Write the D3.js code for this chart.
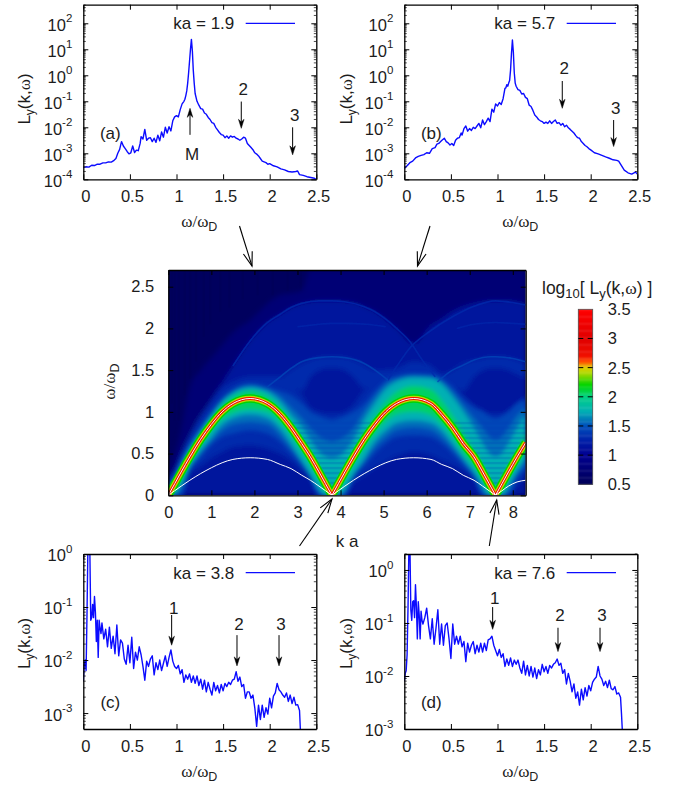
<!DOCTYPE html>
<html>
<head>
<meta charset="utf-8">
<script src="https://d3js.org/d3.v7.min.js"></script>
<style>
body { margin: 0; background: #fff; }
text { font-family: "Liberation Sans", Arial, sans-serif; fill: #1c1c1c; }
.axis path { stroke: #000; stroke-width: 1.3; fill: none; }
.axis line { stroke: #000; stroke-width: 1; }
</style>
</head>
<body>
<script>
//spectra: omega/omega_D and log10 of Ly
var omegaTop = [0,.03,.06,.09,.12,.15,.18,.21,.24,.27,.3,.33,.35,.37,.39,.41,.43,.45,.47,.49,
    .51,.53,.55,.57,.59,.61,.62,.64,.66,.68,.7,.72,.74,.76,.78,.8,.82,.84,.86,.88,
    .9,.92,.94,.96,.98,1,1.02,1.04,1.06,1.08,1.09,1.1,1.11,1.12,1.13,1.14,1.15,1.16,1.17,1.18,
    1.19,1.2,1.22,1.24,1.26,1.28,1.3,1.32,1.34,1.36,1.38,1.4,1.42,1.44,1.46,1.48,1.5,1.52,1.54,1.56,
    1.58,1.6,1.62,1.64,1.66,1.68,1.7,1.72,1.74,1.76,1.78,1.8,1.82,1.84,1.86,1.88,1.9,1.92,1.94,1.96,
    1.98,2,2.04,2.08,2.12,2.16,2.2,2.24,2.28,2.3,2.32,2.36,2.4,2.44,2.48,2.5];
var logLa = [-3.54,-3.52,-3.53,-3.46,-3.47,-3.42,-3.42,-3.37,-3.37,-3.33,-3.34,-3.27,-3.2,-3.0,-2.85,-2.55,-2.72,-2.82,-2.93,-3.02,
    -2.98,-2.72,-2.97,-2.88,-2.9,-2.62,-2.36,-2.45,-2.08,-2.5,-2.42,-2.4,-2.55,-2.42,-2.58,-2.3,-2.52,-2.18,-2.38,-2.0,
    -2.22,-1.98,-2.14,-1.75,-1.6,-1.55,-1.6,-1.32,-1.1,-1.0,-.92,-.78,-.6,-.3,.1,.55,1.0,1.38,.95,.2,
    -.3,-.7,-1.0,-1.15,-1.28,-1.3,-1.45,-1.5,-1.62,-1.7,-1.82,-1.85,-2.0,-2.1,-2.2,-2.28,-2.3,-2.4,-2.33,-2.42,
    -2.33,-2.38,-2.35,-2.42,-2.45,-2.5,-2.45,-2.38,-2.42,-2.62,-2.7,-2.78,-2.86,-2.98,-3.03,-3.1,-3.2,-3.3,-3.33,-3.36,
    -3.42,-3.4,-3.48,-3.52,-3.6,-3.64,-3.7,-3.72,-3.7,-3.68,-3.82,-3.85,-3.9,-3.93,-3.96,-4];
var logLb = [-3.58,-3.48,-3.36,-3.3,-3.18,-3.12,-3.08,-3.05,-2.98,-3.0,-2.82,-2.78,-2.65,-2.62,-2.55,-2.48,-2.42,-2.55,-2.6,-2.68,
    -2.62,-2.7,-2.5,-2.42,-2.4,-2.22,-2.3,-2.05,-1.95,-2.15,-2.05,-2.12,-2.0,-2.05,-1.95,-1.85,-2.02,-1.72,-1.9,-1.78,
    -1.65,-1.78,-1.3,-1.42,-1.1,-1.18,-1.05,-1.12,-.9,-.5,-.48,-.36,-.42,-.3,-.2,.2,.85,1.36,.9,.1,
    -.3,-.42,-.55,-.58,-.72,-.7,-.85,-.9,-1.15,-1.2,-1.35,-1.53,-1.6,-1.7,-1.75,-1.78,-1.85,-1.8,-1.85,-1.75,
    -1.85,-1.78,-1.72,-1.85,-1.82,-1.92,-1.85,-1.98,-1.92,-2.02,-2.08,-2.15,-2.22,-2.32,-2.4,-2.42,-2.55,-2.62,-2.7,-2.75,
    -2.82,-2.87,-2.98,-3.02,-3.08,-3.14,-3.19,-3.25,-3.27,-3.3,-3.42,-3.65,-3.75,-3.8,-3.72,-3.8];
var omegaBottom = [0,.01,.02,.03,.04,.05,.06,.07,.08,.09,.1,.11,.12,.13,.14,.15,.16,.17,.18,.19,.2,
    .22,.24,.26,.28,.3,.32,.34,.36,.38,.4,.42,.44,.46,.48,.5,.52,.54,.56,.58,.6,
    .62,.64,.66,.68,.7,.72,.74,.76,.78,.8,.82,.84,.86,.88,.9,.92,.94,.96,.98,1,
    1.02,1.04,1.06,1.08,1.1,1.12,1.14,1.16,1.18,1.2,1.22,1.24,1.26,1.28,1.3,1.32,1.34,1.36,1.38,1.4,
    1.42,1.44,1.46,1.48,1.5,1.52,1.54,1.56,1.58,1.6,1.62,1.64,1.66,1.68,1.7,1.72,1.74,1.76,1.78,1.8,
    1.82,1.84,1.86,1.88,1.9,1.92,1.94,1.96,1.98,2,2.02,2.04,2.06,2.08,2.1,2.12,2.14,2.16,2.18,2.2,
    2.22,2.24,2.26,2.28,2.3,2.32,2.33,2.34];
var logLc = [-2.4,-2.1,-2.0,-2.2,-1.1,.2,.3,.1,-1.25,-1.2,-.95,-1.2,-.8,-1.1,-1.65,-1.25,-1.95,-1.25,-1.4,-1.5,-1.3,
    -1.6,-1.42,-1.75,-1.38,-1.78,-1.55,-1.88,-1.34,-1.92,-1.62,-1.68,-1.98,-2.08,-1.72,-2.05,-1.57,-2.16,-1.85,-2.0,-1.75,
    -1.9,-2.12,-2.38,-2.02,-2.12,-1.98,-1.92,-2.28,-2.05,-2.18,-2.0,-2.2,-2.06,-1.92,-2.12,-1.95,-1.81,-2.02,-2.12,-2.16,
    -2.1,-2.26,-2.18,-2.42,-2.28,-2.36,-2.26,-2.42,-2.3,-2.44,-2.3,-2.48,-2.36,-2.55,-2.38,-2.6,-2.42,-2.55,-2.66,-2.42,
    -2.58,-2.48,-2.62,-2.46,-2.58,-2.44,-2.5,-2.42,-2.46,-2.38,-2.36,-2.22,-2.4,-2.32,-2.5,-2.46,-2.72,-2.6,-2.6,-2.72,
    -2.66,-2.9,-3.25,-2.85,-3.12,-2.85,-3.08,-2.9,-3.02,-2.72,-2.9,-2.68,-2.62,-2.44,-2.56,-2.6,-2.66,-2.7,-2.62,-2.78,
    -2.66,-2.82,-2.7,-2.85,-2.84,-2.95,-3.35,-3.6];
var logLd = [-2.1,-1.95,-1.9,-1.6,-.7,.5,.5,-.75,-.95,-.6,-.58,-.9,-.28,-.7,-1.3,-.6,-.85,-1.3,-.78,-.95,-1.02,
    -.9,-.72,-1.05,-1.3,-.92,-1.4,-1.1,-.75,-1.4,-1.02,-1.42,-1.05,-1.0,-1.3,-1.67,-1.02,-1.4,-1.25,-1.4,-1.25,
    -1.45,-1.35,-1.73,-1.38,-1.55,-1.42,-1.35,-1.58,-1.42,-1.55,-1.38,-1.55,-1.38,-1.52,-1.32,-1.3,-1.25,-1.42,-1.52,-1.62,
    -1.5,-1.65,-1.58,-1.82,-1.68,-1.8,-1.66,-1.82,-1.7,-1.78,-1.7,-1.85,-1.95,-1.72,-1.98,-1.8,-2.0,-1.82,-2.02,-1.85,
    -2.05,-1.88,-1.98,-1.78,-1.92,-1.82,-1.95,-1.8,-1.85,-1.78,-1.75,-1.68,-1.8,-1.76,-1.95,-1.88,-2.15,-1.95,-2.1,-2.3,
    -2.15,-2.42,-2.3,-2.55,-2.25,-2.45,-2.22,-2.38,-2.18,-2.28,-2.12,-2.06,-2.02,-1.82,-2.0,-2.06,-2.18,-2.1,-2.22,-2.08,
    -2.24,-2.26,-2.2,-2.34,-2.32,-2.4,-2.7,-3.05];

//tick labels
var omegaTicks = [0, 0.5, 1, 1.5, 2, 2.5];
var kTicks = [0, 1, 2, 3, 4, 5, 6, 7, 8];
var heatOmegaTicks = [0, 0.5, 1, 1.5, 2, 2.5];
var barTicks = [0.5, 1, 1.5, 2, 2.5, 3, 3.5];

//colour bar stops
var colorLevels = [0.5, 1, 1.25, 1.5, 1.75, 2, 2.2, 2.4, 2.5, 2.6, 2.7, 3, 3.5];
var colorValues = ["#000058","#000090","#0020a8","#0050bc","#00b0b4","#00d084","#00d400","#a8d800","#e0d000","#ff5000","#f01000","#e00000","#ff0000"];

//heat map, band edges read column by column (omega at each k)
var kGrid = [0,.15,.3,.5,.75,1,1.25,1.5,1.9,2.3,2.6,2.85,3.1,3.3,3.5,3.65,3.8,3.95,4.1,4.3,4.55,4.8,5.05,5.3,5.7,6.1,6.35,6.6,6.85,7.1,7.3,7.45,7.6,7.75,7.9,8.1,8.3];
var ridgeOmega = [0,.14,.28,.46,.67,.85,1,1.1,1.16,1.1,.97,.81,.62,.46,.28,.14,0,.14,.28,.46,.67,.85,1,1.1,1.16,1.1,.97,.81,.62,.46,.28,.14,0,.14,.28,.46,.63];
var lowerOmega = [0,.055,.11,.18,.26,.33,.39,.43,.45,.43,.37,.32,.24,.18,.11,.055,0,.055,.11,.18,.26,.33,.39,.43,.45,.43,.37,.32,.24,.18,.11,.055,0,.055,.11,.16,.18];
var fieldTop = [.3,.5,.8,1.3,1.5,1.65,1.8,1.95,2.1,2.3,2.4,2.42,2.45,2.7,2.7,2.7,2.7,2.7,2.7,2.7,2.7,2.7,2.7,2.7,2.7,2.7,2.7,2.7,2.7,2.7,2.7,2.7,2.7,2.7,2.7,2.7,2.7];
var domeTop = [0,.2,.38,.62,.9,1.15,1.35,1.55,1.85,2.07,2.17,2.25,2.3,2.32,2.33,2.33,2.33,2.33,2.32,2.31,2.26,2.2,2.11,2.0,1.82,2.03,2.11,2.2,2.26,2.3,2.32,2.33,2.33,2.33,2.33,2.32,2.29];
var midLow = [0,0,0,.26,.35,.45,.52,.58,.6,.56,.5,.42,.3,.22,0,0,0,0,0,.15,.24,.33,.4,.47,.52,.48,.42,.37,.3,.22,0,0,0,0,0,.12,.2];
var midTop = [.2,.3,.5,.72,.95,1.12,1.28,1.36,1.42,1.42,1.42,1.5,1.58,1.62,1.65,1.66,1.66,1.66,1.65,1.62,1.56,1.5,1.5,1.52,1.6,1.55,1.45,1.5,1.58,1.62,1.64,1.66,1.66,1.66,1.65,1.62,1.58];
var holeLow = [1.3,1.3,1.3,1.3,1.3,1.3,1.3,1.3,1.3,1.3,1.3,1.3,1.2,1.05,1,.98,.98,.98,1,1.08,1.25,1.3,1.3,1.3,1.3,1.3,1.3,1.3,1.2,1.08,1.02,.98,.98,.98,1.02,1.1,1.2];
var holeTop = [1.3,1.3,1.3,1.3,1.3,1.3,1.3,1.3,1.3,1.3,1.3,1.3,1.25,1.42,1.5,1.52,1.53,1.52,1.5,1.42,1.28,1.3,1.3,1.3,1.3,1.3,1.3,1.3,1.25,1.42,1.5,1.52,1.53,1.52,1.5,1.45,1.4];
var blueLow = [0,0,0,.3,.45,.6,.7,.74,.78,.74,.64,.5,.35,.2,0,0,0,0,0,.22,.35,.5,.62,.7,.72,.7,.62,.5,.36,.2,0,0,0,0,0,.2,.3];
var blueTop = [.12,.25,.42,.62,.82,1,1.16,1.27,1.34,1.3,1.25,1.2,1.1,1,.95,.92,.9,.92,.95,1,1.1,1.25,1.38,1.43,1.46,1.45,1.4,1.3,1.15,1.05,1,.95,.92,.95,1,1.1,1.15];
var aquaLow = [0,.01,.1,.32,.5,.65,.78,.85,.88,.85,.72,.56,.38,.22,.04,0,0,0,.04,.22,.4,.58,.7,.79,.82,.79,.7,.56,.4,.24,.06,0,0,0,.06,.25,.38];
var aquaTop = [.1,.22,.39,.59,.79,.98,1.14,1.25,1.32,1.27,1.18,1.05,.92,.8,.7,.66,.64,.66,.7,.8,1,1.18,1.33,1.4,1.44,1.43,1.37,1.24,1.08,.92,.8,.7,.66,.7,.8,.95,1.05];
var tealLow = [0,.02,.14,.34,.54,.7,.85,.93,.97,.93,.8,.62,.42,.25,.08,0,0,0,.08,.25,.45,.65,.78,.87,.9,.87,.78,.62,.45,.28,.12,0,0,0,.12,.3,.45];
var tealTop = [.08,.2,.36,.56,.76,.95,1.12,1.22,1.29,1.24,1.12,.96,.82,.66,.52,.46,.44,.46,.52,.66,.9,1.1,1.27,1.36,1.41,1.4,1.33,1.18,1,.8,.62,.5,.46,.5,.62,.8,.96];
var greenLow = [0,.04,.17,.39,.59,.77,.91,.99,1.03,1,.87,.72,.53,.37,.19,.05,0,.05,.19,.37,.56,.74,.88,.97,1,.96,.85,.7,.5,.35,.18,.05,0,.05,.19,.37,.52];
var greenTop = [.05,.18,.33,.52,.73,.91,1.07,1.18,1.25,1.19,1.05,.88,.69,.53,.35,.2,.1,.2,.35,.53,.76,.95,1.12,1.24,1.31,1.27,1.14,.96,.76,.55,.38,.22,.1,.22,.38,.55,.76];

//levels of the layered bands, in drawing order
var layerNames = ["field", "dome", "mid", "hole", "blue", "aqua", "teal", "green"];
var layerLevels = [0.75, 1.14, 1.3, 1.14, 1.45, 1.58, 1.75, 2.05];
var layerLow = [null, null, midLow, holeLow, blueLow, aquaLow, tealLow, greenLow];
var layerTop = [fieldTop, domeTop, midTop, holeTop, blueTop, aquaTop, tealTop, greenTop];
var softCount = 4;
var backgroundLevel = 0.55;

//thin bright arcs in the upper part of the map
var arcK = [[1.5,1.9,2.3,2.6,2.85,3.1,3.5,3.8,4.1,4.55,4.8,5.05,5.3,5.6,5.9,6.2],
    [5.1,5.3,5.6,6.06,6.6,7.07,7.6,8,8.3],
    [3,3.5,3.8,4.1,4.6,5.05],
    [6.7,7.1,7.6,8,8.3],
    [2.3,2.6,2.85,3.1,3.5,3.8,4.1,4.55,4.8,5.1],
    [6.25,6.6,6.85,7.1,7.5,7.6,8,8.3]];
var arcOmega = [[1.55,1.85,2.07,2.17,2.25,2.3,2.33,2.33,2.32,2.26,2.2,2.11,2,1.85,1.62,1.42],
    [1.38,1.54,1.76,1.96,2.14,2.26,2.33,2.31,2.28],
    [2.02,2.05,2.06,2.06,2.05,2.02],
    [2,2.05,2.07,2.06,2.05],
    [1.3,1.42,1.52,1.6,1.65,1.66,1.65,1.58,1.5,1.38],
    [1.36,1.5,1.56,1.62,1.66,1.66,1.64,1.6]];
var arcLevels = [1.3, 1.3, 1.28, 1.28, 1.45, 1.45];

//ridge core: level and half width in omega
var ridgeLevels = [2.2, 2.45, 2.7, 3.2];
var ridgeHalf = [0.05, 0.032, 0.017, 0.009];
var cuspSplit = [[0, 16], [16, 32], [32, 36]];

//faint horizontal stripes inside the arches
var stripeOmega = [.16,.22,.28,.34,.4,.46,.52,.58,.64,.7,.76,.82,.88];
var stripeHalf = [.16,.22,.29,.35,.42,.49,.56,.63,.7,.77,.85,.93,1.02];
var stripeCenter = [3.8, 7.6];
var streakK = [.05,.12,.22,.36,.48,.62,.8,.95,1.18,1.4,1.7,2.05,2.4,2.75,3.05,3.32,3.6,4.35,4.9,5.4];
var streakFrom = [1.1,.9,.9,1.2,1.4,1.6,1.9,2.05,2.2,2.25,2.35,2.4,2.4,2.45,2.45,2.45,2.45,2.45,2.45,2.4];

//annotation arrows on the spectra
var panelNames = ["(a)", "(b)", "(c)", "(d)"];
var panelKa = ["ka = 1.9", "ka = 5.7", "ka = 3.8", "ka = 7.6"];
var markOmega = [[1.145, 1.695, 2.246], [1.695, 2.246], [.948, 1.649, 2.1], [.948, 1.649, 2.1]];
var markFrom = [[-2.29, -1.01, -2.0], [-.22, -1.72], [-1.15, -1.53, -1.53], [-.7, -1.09, -1.09]];
var markTo = [[-1.27, -2.04, -3.06], [-1.27, -2.74], [-1.72, -2.11, -2.11], [-1.12, -1.54, -1.54]];
var markText = [["M", "2", "3"], ["2", "3"], ["1", "2", "3"], ["1", "2", "3"]];
var markTextLog = [[-3.03, -.54, -1.53], [.27, -1.27], [-1.01, -1.32, -1.32], [-.53, -.85, -.85]];

//big arrows between the panels, in page pixels
var bigFromX = [239.5, 430, 299.5, 489.3];
var bigFromY = [226, 226, 546, 546];
var bigToX = [252, 417.5, 332, 496.7];
var bigToY = [266, 266, 499, 500];

var width = 679;
var height = 788;
var colorScale = d3.scaleLinear().domain(colorLevels).range(colorValues);

var svg = d3.select("body").append("svg")
    .attr("width", width)
    .attr("height", height);

window.onload = setPage();

function setPage(){
    setSpectrum(0, {x:83.3, y:4.7, w:233, h:174.6}, [Math.pow(10,-4), Math.pow(10,2.715)], omegaTop, logLa, [-4,-3,-2,-1,0,1,2], 25);
    setSpectrum(1, {x:404.3, y:4.7, w:233, h:174.6}, [Math.pow(10,-4), Math.pow(10,2.715)], omegaTop, logLb, [-4,-3,-2,-1,0,1,2], 347);
    setSpectrum(2, {x:83.3, y:554, w:233, h:175}, [Math.pow(10,-3.3), 1], omegaBottom, logLc, [-3,-2,-1,0], 25);
    setSpectrum(3, {x:404.3, y:554, w:233, h:175}, [Math.pow(10,-3), 2], omegaBottom, logLd, [-3,-2,-1,0], 347);
    setHeatMap({x:168.3, y:270, w:357.4, h:225.3});
    setColorBar({x:578.3, y:309.3, w:14.4, h:175});
    for (var i=0; i<bigFromX.length; i++){
        drawArrow(bigFromX[i], bigFromY[i], bigToX[i], bigToY[i], 14, 4.6, false);
    };
};

//log tick positions for minor ticks
function minorTicks(domain){
    var out = [];
    var lo = Math.floor(Math.log10(domain[0]));
    var hi = Math.ceil(Math.log10(domain[1]));
    for (var e=lo; e<=hi; e++){
        for (var m=2; m<10; m++){
            var v = m * Math.pow(10, e);
            if (v >= domain[0] && v <= domain[1]) out.push(v);
        };
    };
    return out;
};

function setSpectrum(index, box, yDomain, omega, logL, decades, labelX){
    var g = svg.append("g").attr("transform", "translate(" + box.x + "," + box.y + ")");
    var x = d3.scaleLinear().domain([0, 2.5]).range([0, box.w]);
    var y = d3.scaleLog().domain(yDomain).range([box.h, 0]);
    var clipId = "clip" + index;
    g.append("clipPath").attr("id", clipId).append("rect").attr("width", box.w).attr("height", box.h);

    var line = d3.line()
        .x(function(d){ return x(d[0]); })
        .y(function(d){ return y(Math.pow(10, d[1])); });
    g.append("path")
        .datum(d3.zip(omega, logL))
        .attr("clip-path", "url(#" + clipId + ")")
        .attr("d", line)
        .attr("fill", "none")
        .attr("stroke", "#0c0cff")
        .attr("stroke-width", 1.4)
        .attr("stroke-linejoin", "round");

    //axes, gnuplot style: ticks inside on all four sides
    var bottom = g.append("g").attr("class", "axis").attr("transform", "translate(0," + box.h + ")")
        .call(d3.axisBottom(x).tickValues(omegaTicks).tickSizeInner(-5).tickSizeOuter(0).tickPadding(11)
            .tickFormat(function(d){ return d; }));
    bottom.selectAll("text").attr("font-size", 16.5).attr("dx", 2);
    g.append("g").attr("class", "axis")
        .call(d3.axisTop(x).tickValues(omegaTicks).tickSizeInner(-5).tickSizeOuter(0).tickFormat(""));

    var majors = decades.map(function(e){ return Math.pow(10, e); });
    var left = g.append("g").attr("class", "axis")
        .call(d3.axisLeft(y).tickValues(majors).tickSizeInner(-5).tickSizeOuter(0).tickPadding(11).tickFormat(""));
    left.selectAll(".tick").each(function(d, i){
        var t = d3.select(this).select("text").attr("font-size", 16.5).attr("dy", "0.42em").attr("dx", 0);
        t.text(null);
        t.append("tspan").text("10");
        t.append("tspan").attr("font-size", 11.5).attr("dy", "-0.75em").text(decades[i]);
    });
    g.append("g").attr("class", "axis").attr("transform", "translate(" + box.w + ",0)")
        .call(d3.axisRight(y).tickValues(majors).tickSizeInner(-5).tickSizeOuter(0).tickFormat(""));

    //minor ticks
    var minors = minorTicks(yDomain);
    [0, box.w].forEach(function(px){
        g.selectAll(null).data(minors).enter().append("line")
            .attr("x1", px)
            .attr("x2", px === 0 ? 2.5 : px - 2.5)
            .attr("y1", function(d){ return y(d); })
            .attr("y2", function(d){ return y(d); })
            .attr("stroke", "#000")
            .attr("stroke-width", 0.7);
    });

    //key
    var keyY = index < 2 ? 18.6 : 18.7;
    g.append("text").attr("x", 151).attr("y", keyY + 6).attr("text-anchor", "end").attr("font-size", 17).text(panelKa[index]);
    g.append("line").attr("x1", 162.4).attr("x2", 211.7).attr("y1", keyY).attr("y2", keyY)
        .attr("stroke", "#0c0cff").attr("stroke-width", 1.25);

    //panel letter
    var letterY = index < 2 ? 128.3 + 5.8 : 153.8;
    g.append("text").attr("x", 27).attr("y", letterY).attr("text-anchor", "middle").attr("font-size", 17).text(panelNames[index]);

    //marks
    markOmega[index].forEach(function(w, i){
        var px = x(w) + box.x;
        drawArrow(px, y(Math.pow(10, markFrom[index][i])) + box.y, px, y(Math.pow(10, markTo[index][i])) + box.y, 9, 2.8, true);
        g.append("text")
            .attr("x", x(w) + 2)
            .attr("y", y(Math.pow(10, markTextLog[index][i])) + 6)
            .attr("text-anchor", "middle")
            .attr("font-size", 17)
            .text(markText[index][i]);
    });

    //axis titles
    omegaLabel(box.x + box.w / 2 - 0.5, box.y + box.h + 48, 0);
    var yl = svg.append("text")
        .attr("transform", "translate(" + (labelX + 5) + "," + (box.y + box.h / 2 + (index < 2 ? 7 : 2)) + ") rotate(-90)")
        .attr("text-anchor", "middle")
        .attr("font-size", 17);
    yl.append("tspan").text("L");
    yl.append("tspan").attr("font-size", 12).attr("dy", 4).text("y");
    yl.append("tspan").attr("dy", -4).text("(k,");
    yl.append("tspan").attr("font-family", "Liberation Serif").text("ω");
    yl.append("tspan").text(")");
};

function omegaLabel(cx, cy, rotate){
    var t = svg.append("text")
        .attr("transform", "translate(" + cx + "," + cy + ") rotate(" + rotate + ")")
        .attr("text-anchor", "middle")
        .attr("font-size", 17);
    t.append("tspan").attr("font-family", "Liberation Serif").text("ω/ω");
    t.append("tspan").attr("font-size", 12.5).attr("dy", 4).text("D");
};

function setHeatMap(box){
    var g = svg.append("g").attr("transform", "translate(" + box.x + "," + box.y + ")");
    var k = d3.scaleLinear().domain([0, 8.3]).range([0, box.w]);
    var y = d3.scaleLinear().domain([0, 2.7]).range([box.h, 0]);

    var defs = svg.append("defs");
    defs.append("clipPath").attr("id", "heatClip").append("rect").attr("width", box.w).attr("height", box.h);
    var wide = defs.append("filter").attr("id", "wide").attr("x", "-5%").attr("y", "-5%").attr("width", "110%").attr("height", "110%");
    wide.append("feGaussianBlur").attr("stdDeviation", 2.6);
    var blur = defs.append("filter").attr("id", "soft").attr("x", "-5%").attr("y", "-5%").attr("width", "110%").attr("height", "110%");
    blur.append("feGaussianBlur").attr("stdDeviation", 1.9);
    var soft2 = defs.append("filter").attr("id", "softer").attr("x", "-5%").attr("y", "-5%").attr("width", "110%").attr("height", "110%");
    soft2.append("feGaussianBlur").attr("stdDeviation", 0.6);

    var clip = g.append("g").attr("clip-path", "url(#heatClip)");
    clip.append("rect")
        .attr("width", box.w).attr("height", box.h)
        .attr("fill", colorScale(backgroundLevel));

    //dark vertical streaks at the top
    clip.selectAll(".streak").data(streakK).enter().append("rect")
        .attr("class", "streak")
        .attr("x", function(d){ return k(d); })
        .attr("width", function(d){ return k(0.05); })
        .attr("y", 0)
        .attr("height", function(d, i){ return y(streakFrom[i]); })
        .attr("fill", colorScale(0.5))
        .attr("opacity", 0.7);

    //broad background layers get the wide blur, the ones near the ridge a narrower one
    var wideBands = clip.append("g").attr("filter", "url(#wide)");
    var bands = clip.append("g").attr("filter", "url(#soft)");
    layerNames.forEach(function(name, n){
        var low = layerLow[n], top = layerTop[n];
        var area = d3.area()
            .x(function(d){ return k(d); })
            .y0(function(d, i){ return y(low ? low[i] : 0); })
            .y1(function(d, i){ return y(top[i]); })
            .curve(d3.curveMonotoneX);
        (n < softCount ? wideBands : bands).append("path")
            .datum(kGrid)
            .attr("class", name)
            .attr("d", area)
            .attr("fill", colorScale(layerLevels[n]));
    });

    var arcLine = d3.line()
        .x(function(d){ return k(d[0]); })
        .y(function(d){ return y(d[1]); })
        .curve(d3.curveMonotoneX);
    var arcs = clip.append("g").attr("filter", "url(#softer)").attr("opacity", 0.8);
    arcK.forEach(function(kk, i){
        arcs.append("path")
            .datum(d3.zip(kk, arcOmega[i]))
            .attr("d", arcLine)
            .attr("fill", "none")
            .attr("stroke", colorScale(arcLevels[i]))
            .attr("stroke-width", 1.6);
    });

    //stripes between the arches
    stripeCenter.forEach(function(c){
        clip.selectAll(null).data(stripeOmega).enter().append("rect")
            .attr("x", function(d, i){ return k(c - stripeHalf[i]); })
            .attr("width", function(d, i){ return k(2 * stripeHalf[i]); })
            .attr("y", function(d){ return y(d); })
            .attr("height", y(0) - y(0.028))
            .attr("fill", colorScale(1.4))
            .attr("opacity", 0.22);
    });

    //ridge core, one stroke per level, cut at the cusps
    var ridgeLine = d3.line()
        .x(function(d){ return k(d[0]); })
        .y(function(d){ return y(d[1]); })
        .curve(d3.curveMonotoneX);
    var ridgeZip = d3.zip(kGrid, ridgeOmega);
    var lowerZip = d3.zip(kGrid, lowerOmega);
    var core = clip.append("g").attr("filter", "url(#softer)");
    ridgeLevels.forEach(function(level, n){
        cuspSplit.forEach(function(s){
            core.append("path")
                .datum(ridgeZip.slice(s[0], s[1] + 1))
                .attr("d", ridgeLine)
                .attr("fill", "none")
                .attr("stroke", colorScale(level))
                .attr("stroke-width", y(0) - y(2 * ridgeHalf[n]));
        });
    });

    //white curves on top
    cuspSplit.forEach(function(s){
        clip.append("path").datum(ridgeZip.slice(s[0], s[1] + 1)).attr("d", ridgeLine)
            .attr("fill", "none").attr("stroke", "#fff").attr("stroke-width", 1);
        clip.append("path").datum(lowerZip.slice(s[0], s[1] + 1)).attr("d", ridgeLine)
            .attr("fill", "none").attr("stroke", "#fff").attr("stroke-width", 1);
    });

    //axes
    var bottom = g.append("g").attr("class", "axis").attr("transform", "translate(0," + box.h + ")")
        .call(d3.axisBottom(k).tickValues(kTicks).tickSizeInner(-5).tickSizeOuter(0).tickPadding(11).tickFormat(d3.format("d")));
    bottom.selectAll("text").attr("font-size", 16.5);
    g.append("g").attr("class", "axis")
        .call(d3.axisTop(k).tickValues(kTicks).tickSizeInner(-5).tickSizeOuter(0).tickFormat(""));
    var left = g.append("g").attr("class", "axis")
        .call(d3.axisLeft(y).tickValues(heatOmegaTicks).tickSizeInner(-5).tickSizeOuter(0).tickPadding(14).tickFormat(function(d){ return d; }));
    left.selectAll("text").attr("font-size", 16.5);
    g.append("g").attr("class", "axis").attr("transform", "translate(" + box.w + ",0)")
        .call(d3.axisRight(y).tickValues(heatOmegaTicks).tickSizeInner(-5).tickSizeOuter(0).tickFormat(""));

    omegaLabel(box.x - 53, box.y + box.h / 2 - 1, -90);
    g.append("text")
        .attr("x", k(4.2) - 2).attr("y", box.h + 52)
        .attr("text-anchor", "middle")
        .attr("font-size", 17)
        .text("k a");
};

function setColorBar(box){
    var g = svg.append("g").attr("transform", "translate(" + box.x + "," + box.y + ")");
    var y = d3.scaleLinear().domain([0.5, 3.5]).range([box.h, 0]);
    var steps = d3.range(0.5, 3.5, 0.015);
    g.selectAll(".cell").data(steps).enter().append("rect")
        .attr("class", "cell")
        .attr("x", 0)
        .attr("width", box.w)
        .attr("y", function(d){ return y(d + 0.015); })
        .attr("height", function(d){ return y(d) - y(d + 0.015) + 0.5; })
        .attr("fill", function(d){ return colorScale(d); });
    g.append("rect").attr("width", box.w).attr("height", box.h)
        .attr("fill", "none").attr("stroke", "#555").attr("stroke-width", 0.8);
    var ticks = barTicks.slice(1, -1);
    [0, box.w].forEach(function(px){
        g.selectAll(null).data(ticks).enter().append("line")
            .attr("x1", px)
            .attr("x2", px === 0 ? 5 : px - 5)
            .attr("y1", function(d){ return y(d); })
            .attr("y2", function(d){ return y(d); })
            .attr("stroke", "#000")
            .attr("stroke-width", 1);
    });
    g.selectAll(".barLabel").data(barTicks).enter().append("text")
        .attr("class", "barLabel")
        .attr("x", box.w + 15)
        .attr("y", function(d){ return y(d) + 6; })
        .attr("font-size", 16.5)
        .text(function(d){ return d; });

    var title = svg.append("text")
        .attr("x", 542).attr("y", 294).attr("font-size", 17.5);
    title.append("tspan").text("log");
    title.append("tspan").attr("font-size", 13).attr("dy", 4).text("10");
    title.append("tspan").attr("dy", -4).text("[ L");
    title.append("tspan").attr("font-size", 13).attr("dy", 4).text("y");
    title.append("tspan").attr("dy", -4).text("(k,");
    title.append("tspan").attr("font-family", "Liberation Serif").text("ω");
    title.append("tspan").text(") ]");
};

//arrow from (x1,y1) to (x2,y2); the head is filled for the small ones
function drawArrow(x1, y1, x2, y2, headLen, headHalf, filled){
    var a = Math.atan2(y2 - y1, x2 - x1);
    var ca = Math.cos(a), sa = Math.sin(a);
    svg.append("line")
        .attr("x1", x1).attr("y1", y1)
        .attr("x2", filled ? x2 - ca * 3 : x2).attr("y2", filled ? y2 - sa * 3 : y2)
        .attr("stroke", "#000").attr("stroke-width", filled ? 1 : 1.1);
    var p = d3.path();
    p.moveTo(x2 - ca * headLen - sa * headHalf, y2 - sa * headLen + ca * headHalf);
    p.lineTo(x2, y2);
    p.lineTo(x2 - ca * headLen + sa * headHalf, y2 - sa * headLen - ca * headHalf);
    if (filled){
        p.lineTo(x2 - ca * headLen * 0.7, y2 - sa * headLen * 0.7);
        p.closePath();
    };
    svg.append("path")
        .attr("d", p.toString())
        .attr("fill", filled ? "#000" : "none")
        .attr("stroke", "#000")
        .attr("stroke-width", filled ? 0.5 : 1.1);
};
</script>
</body>
</html>
